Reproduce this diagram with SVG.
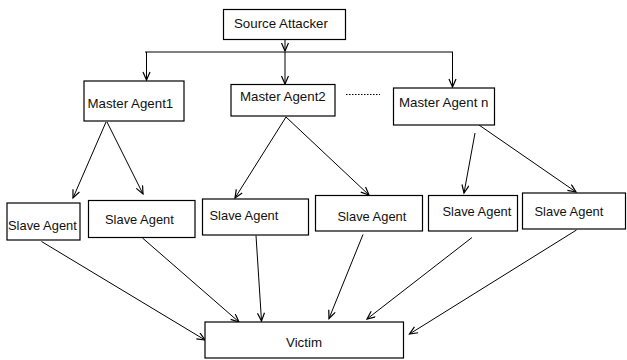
<svg xmlns="http://www.w3.org/2000/svg" width="627" height="360" viewBox="0 0 627 360">
  <style>
    .box { fill: #ffffff; stroke: #000000; stroke-width: 1.2; }
    .lbl { font-family: "Liberation Sans", Arial, sans-serif; font-size: 13.3px; fill: #111111; }
    .sl { font-size: 12.9px; }
    .edge { fill: none; stroke: #000000; stroke-width: 1; }
  </style>
  <defs>
    <marker id="arrow" markerUnits="userSpaceOnUse" markerWidth="12" markerHeight="10" refX="9" refY="4" orient="auto">
      <path d="M1,0.5 L9,4 L1,7.5" fill="none" stroke="#000000" stroke-width="1.2"/>
    </marker>
  </defs>
  <rect width="627" height="360" fill="#ffffff"/>

  <!-- connectors -->
  <g id="connectors">
    <line class="edge" x1="285" y1="39" x2="285" y2="51" marker-end="url(#arrow)"/>
    <line class="edge" x1="145" y1="52" x2="453" y2="52"/>
    <line class="edge" x1="146.5" y1="52" x2="146.5" y2="80" marker-end="url(#arrow)"/>
    <line class="edge" x1="285" y1="52" x2="285" y2="84" marker-end="url(#arrow)"/>
    <line class="edge" x1="452.5" y1="52" x2="452.5" y2="87" marker-end="url(#arrow)"/>

    <line class="edge" x1="106" y1="122" x2="73" y2="198" marker-end="url(#arrow)"/>
    <line class="edge" x1="107" y1="122" x2="143" y2="194" marker-end="url(#arrow)"/>
    <line class="edge" x1="286" y1="117" x2="235" y2="198" marker-end="url(#arrow)"/>
    <line class="edge" x1="286" y1="117" x2="369" y2="195" marker-end="url(#arrow)"/>
    <line class="edge" x1="475" y1="133" x2="464" y2="193" marker-end="url(#arrow)"/>
    <line class="edge" x1="479" y1="125" x2="576" y2="192" marker-end="url(#arrow)"/>

    <line class="edge" x1="41.5" y1="241.5" x2="205" y2="340" marker-end="url(#arrow)"/>
    <line class="edge" x1="142.5" y1="238" x2="239" y2="322" marker-end="url(#arrow)"/>
    <line class="edge" x1="256" y1="235.5" x2="261.5" y2="321" marker-end="url(#arrow)"/>
    <line class="edge" x1="363" y1="234.5" x2="329" y2="318.5" marker-end="url(#arrow)"/>
    <line class="edge" x1="472" y1="237.5" x2="367" y2="319" marker-end="url(#arrow)"/>
    <line class="edge" x1="576.5" y1="230" x2="409.5" y2="334" marker-end="url(#arrow)"/>
  </g>

  <!-- dotted gap between master agents -->
  <line x1="346" y1="94.5" x2="380" y2="94.5" stroke="#000000" stroke-width="1" stroke-dasharray="1.5,1.5"/>

  <g id="source">
    <rect class="box" x="223.5" y="9.5" width="122" height="30"/>
    <text class="lbl" x="234" y="27.5">Source Attacker</text>
  </g>

  <g id="master1">
    <rect class="box" x="84" y="81" width="100" height="40"/>
    <text class="lbl" x="87.5" y="108">Master Agent1</text>
  </g>
  <g id="master2">
    <rect class="box" x="231" y="84.5" width="104" height="31.5"/>
    <text class="lbl" x="240" y="100.5">Master Agent2</text>
  </g>
  <g id="mastern">
    <rect class="box" x="393.5" y="88" width="101" height="37"/>
    <text class="lbl" x="399" y="107">Master Agent n</text>
  </g>

  <g id="slave1">
    <rect class="box" x="7" y="203" width="73" height="37"/>
    <text class="lbl sl" x="8" y="229.5">Slave Agent</text>
  </g>
  <g id="slave2">
    <rect class="box" x="88.5" y="200.5" width="106.5" height="37"/>
    <text class="lbl sl" x="105" y="224">Slave Agent</text>
  </g>
  <g id="slave3">
    <rect class="box" x="202.5" y="199" width="106" height="36"/>
    <text class="lbl sl" x="209.5" y="220">Slave Agent</text>
  </g>
  <g id="slave4">
    <rect class="box" x="315.5" y="195.5" width="107" height="35.5"/>
    <text class="lbl sl" x="337.5" y="220.5">Slave Agent</text>
  </g>
  <g id="slave5">
    <rect class="box" x="428.5" y="195.5" width="89" height="35.5"/>
    <text class="lbl sl" x="442.5" y="215.5">Slave Agent</text>
  </g>
  <g id="slave6">
    <rect class="box" x="522.5" y="193" width="103" height="36"/>
    <text class="lbl sl" x="534.5" y="215.5">Slave Agent</text>
  </g>

  <g id="victim">
    <rect class="box" x="205" y="322" width="198.5" height="36"/>
    <text class="lbl" x="286" y="346.5">Victim</text>
  </g>
</svg>
